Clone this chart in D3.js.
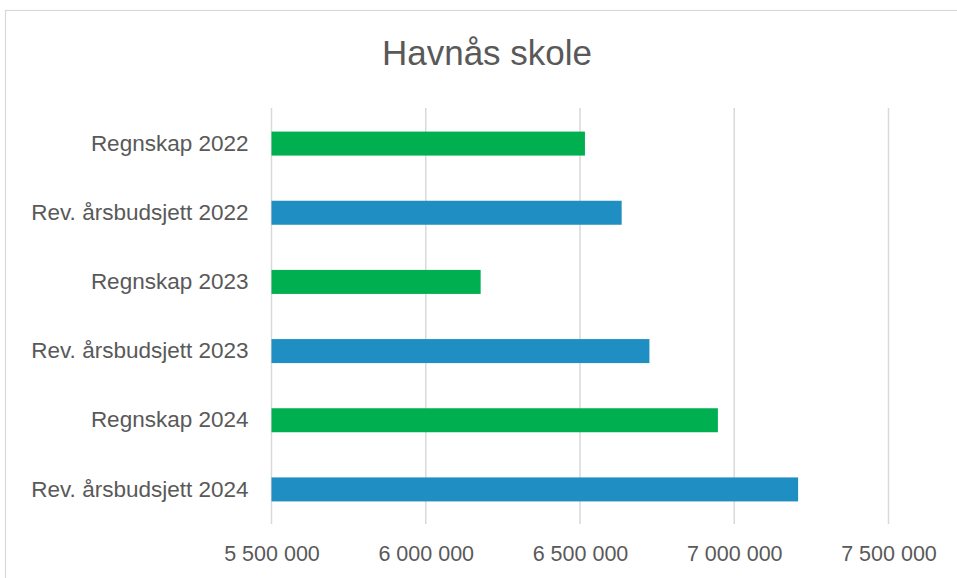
<html>
  <head>
    <meta charset="utf-8">
    <title>Havnås skole</title>
  </head>
<style>
	body {
		margin: 0;
		background-color: #FFFFFF;
	}
	text {
		font-family: "Liberation Sans", Arial, sans-serif;
		fill: #595959;
	}
</style>
<body>
<div id="chart"></div>
<script src="https://cdn.jsdelivr.net/npm/d3@7"></script>
<script>
	// data
	var categories = ["Regnskap 2022", "Rev. årsbudsjett 2022", "Regnskap 2023",
		"Rev. årsbudsjett 2023", "Regnskap 2024", "Rev. årsbudsjett 2024"];
	var values = [6516000, 6635000, 6178000, 6725000, 6947000, 7207000];
	var barColors = ["#00B050", "#1F8EC2", "#00B050", "#1F8EC2", "#00B050", "#1F8EC2"];
	var tickValues = [5500000, 6000000, 6500000, 7000000, 7500000];
	var title = "Havnås skole";

	var width = 957;
	var height = 578;
	var plotLeft = 271.5, plotRight = 888.5;
	var plotTop = 109, plotBottom = 524;

	var svg = d3.select("#chart").append("svg")
		.attr("width", width)
		.attr("height", height);

	// chart border
	svg.append("rect")
		.attr("x", 5.5).attr("y", 10.5)
		.attr("width", 1000).attr("height", 1000)
		.attr("fill", "none")
		.attr("stroke", "#D9D9D9")
		.attr("stroke-width", 1.2);

	var x = d3.scaleLinear()
		.domain([5500000, 7500000])
		.range([plotLeft, plotRight]);

	var y = d3.scaleBand()
		.domain(categories)
		.range([plotTop, plotBottom])
		.paddingInner(0.653)
		.paddingOuter(0.3265);

	//gridlines
	svg.append("g").selectAll("line")
		.data(tickValues)
		.enter().append("line")
		.attr("x1", function(d){ return x(d); })
		.attr("x2", function(d){ return x(d); })
		.attr("y1", plotTop - 1)
		.attr("y2", plotBottom)
		.attr("stroke", "#D9D9D9")
		.attr("stroke-width", 1.5);

	// bars
	svg.append("g").selectAll("rect")
		.data(values)
		.enter().append("rect")
		.attr("x", x(5500000))
		.attr("y", function(d, i){ return y(categories[i]); })
		.attr("width", function(d){ return x(d) - x(5500000); })
		.attr("height", y.bandwidth())
		.attr("fill", function(d, i){ return barColors[i]; });

	// x axis labels
	var fmt = function(d){ return d3.format(",")(d).replace(/,/g, " "); };
	var xAxis = d3.axisBottom(x)
		.tickValues(tickValues)
		.tickFormat(fmt)
		.tickSize(0)
		.tickPadding(0);
	var gx = svg.append("g")
		.attr("transform", "translate(0," + 546 + ")")
		.call(xAxis);
	gx.select(".domain").remove();
	gx.selectAll("text")
		.attr("dy", "0.71em")
		.style("font-size", "21.5px")
		.attr("fill", "#595959");

	// category labels
	var yAxis = d3.axisLeft(y)
		.tickSize(0)
		.tickPadding(23);
	var gy = svg.append("g")
		.attr("transform", "translate(" + plotLeft + ",0)")
		.call(yAxis);
	gy.select(".domain").remove();
	gy.selectAll("text")
		.style("font-size", "22.5px")
		.attr("fill", "#595959");

	// title
	svg.append("text")
		.attr("x", 487)
		.attr("y", 65)
		.attr("text-anchor", "middle")
		.style("font-size", "35px")
		.text(title);
</script>
</body>
</html>
